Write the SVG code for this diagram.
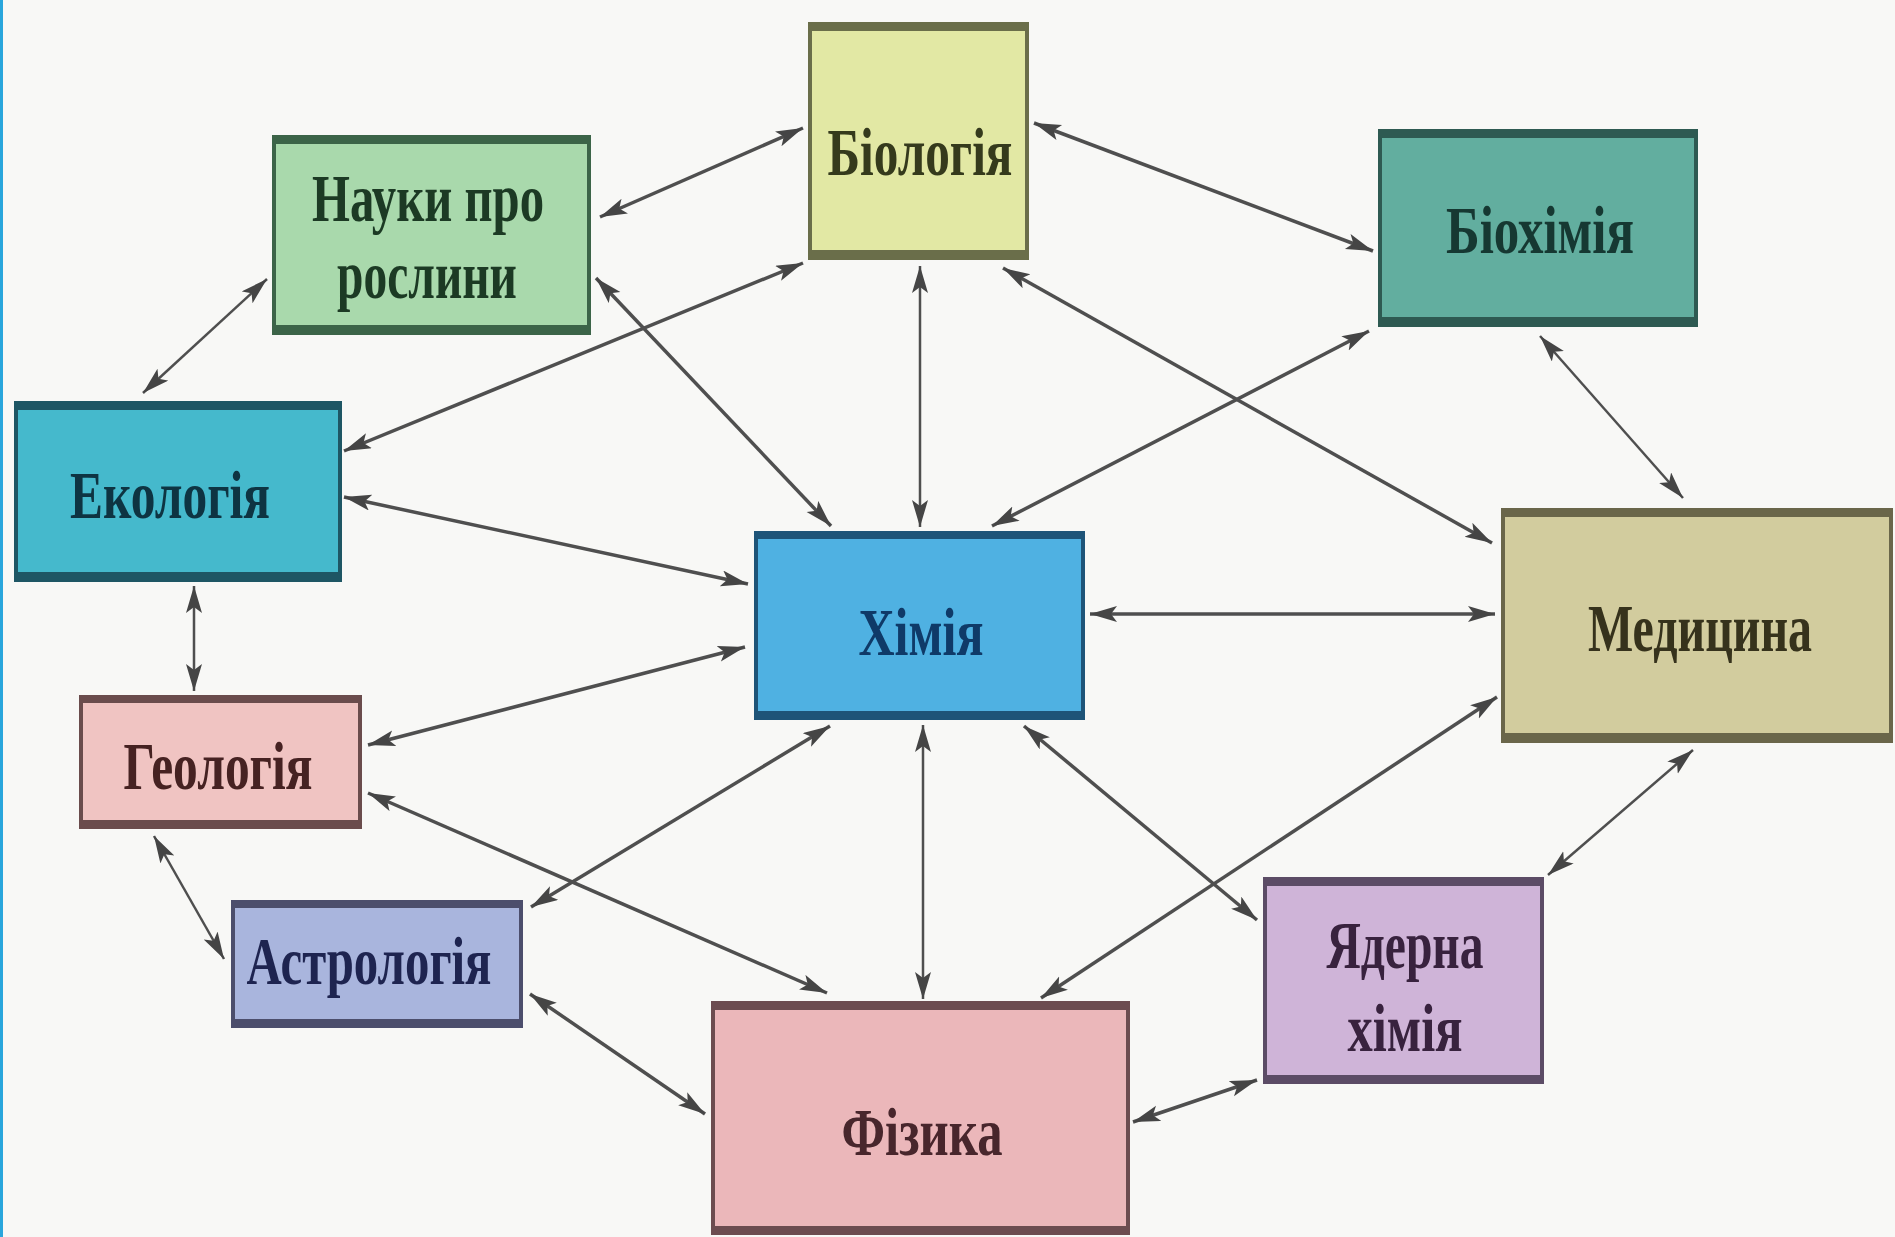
<svg xmlns="http://www.w3.org/2000/svg" width="1895" height="1237" viewBox="0 0 1895 1237">
<defs>
<marker id="ah" markerUnits="userSpaceOnUse" markerWidth="30" markerHeight="18" refX="27" refY="8" orient="auto-start-reverse" viewBox="0 0 30 18">
<path d="M0,0 L27,8 L0,16 L6,8 z" fill="#454545"/>
</marker>
<style>
.c line{stroke:#4f4f4f;stroke-width:3.5;marker-start:url(#ah);marker-end:url(#ah)}
.c line.t{stroke-width:2.5}
.lbl{font-family:"Liberation Serif","DejaVu Serif",serif;font-size:68px;font-weight:bold;text-anchor:middle}
</style>
</defs>
<rect x="0" y="0" width="1895" height="1237" fill="#f8f8f6"/>
<rect x="0" y="0" width="3" height="1237" fill="#2aa6dc"/>

<g class="c" id="connectors">
<line x1="600" y1="217" x2="803" y2="128"/>
<line x1="1034" y1="123" x2="1373" y2="251"/>
<line x1="803" y1="263" x2="344" y2="451"/>
<line x1="596" y1="278" x2="831" y2="526"/>
<line class="t" x1="920" y1="266" x2="920" y2="527"/>
<line x1="1003" y1="268" x2="1492" y2="543"/>
<line x1="1369" y1="331" x2="992" y2="526"/>
<line class="t" x1="1540" y1="336" x2="1683" y2="498"/>
<line class="t" x1="267" y1="279" x2="143" y2="393"/>
<line x1="344" y1="497" x2="748" y2="584"/>
<line class="t" x1="194" y1="586" x2="194" y2="691"/>
<line x1="745" y1="647" x2="368" y2="745"/>
<line x1="1090" y1="614" x2="1495" y2="614"/>
<line x1="830" y1="726" x2="531" y2="907"/>
<line x1="368" y1="793" x2="827" y2="993"/>
<line class="t" x1="923" y1="725" x2="923" y2="999"/>
<line x1="1024" y1="726" x2="1257" y2="920"/>
<line x1="1497" y1="697" x2="1041" y2="998"/>
<line class="t" x1="1693" y1="750" x2="1548" y2="875"/>
<line class="t" x1="154" y1="836" x2="224" y2="959"/>
<line x1="530" y1="994" x2="705" y2="1114"/>
<line x1="1133" y1="1122" x2="1257" y2="1080"/>
</g>

<g id="nauky">
<rect x="274" y="137" width="315" height="196" fill="#a9d9ac" stroke="#3c6448" stroke-width="4"/>
<rect x="272" y="135" width="319" height="9" fill="#3c6448"/>
<rect x="272" y="325" width="319" height="9" fill="#3c6448"/>
<text class="lbl" x="428" y="221" fill="#1c3a24" textLength="232" lengthAdjust="spacingAndGlyphs">Науки про</text>
<text class="lbl" x="427" y="298" fill="#1c3a24" textLength="180" lengthAdjust="spacingAndGlyphs">рослини</text>
</g>

<g id="biologiya">
<rect x="810" y="25" width="217" height="233" fill="#e2e8a4" stroke="#6a6e4a" stroke-width="4"/>
<rect x="808" y="22" width="221" height="9" fill="#6a6e4a"/>
<rect x="808" y="250" width="221" height="9" fill="#6a6e4a"/>
<text class="lbl" x="920" y="175" fill="#353a1c" textLength="185" lengthAdjust="spacingAndGlyphs">Біологія</text>
</g>

<g id="biokhimiya">
<rect x="1380" y="131" width="316" height="194" fill="#62ae9f" stroke="#2e5a52" stroke-width="4"/>
<rect x="1378" y="129" width="320" height="9" fill="#2e5a52"/>
<rect x="1378" y="317" width="320" height="9" fill="#2e5a52"/>
<text class="lbl" x="1540" y="253" fill="#163832" textLength="188" lengthAdjust="spacingAndGlyphs">Біохімія</text>
</g>

<g id="ekologiya">
<rect x="16" y="403" width="324" height="177" fill="#45b9cc" stroke="#1e5664" stroke-width="4"/>
<rect x="14" y="401" width="328" height="9" fill="#1e5664"/>
<rect x="14" y="572" width="328" height="9" fill="#1e5664"/>
<text class="lbl" x="170" y="518" fill="#0e3442" textLength="200" lengthAdjust="spacingAndGlyphs">Екологія</text>
</g>

<g id="khimiya">
<rect x="756" y="533" width="327" height="185" fill="#4fb1e2" stroke="#1e5478" stroke-width="4"/>
<rect x="754" y="531" width="331" height="8" fill="#1e5478"/>
<rect x="754" y="711" width="331" height="8" fill="#1e5478"/>
<text class="lbl" x="921" y="655" fill="#0f3a68" textLength="125" lengthAdjust="spacingAndGlyphs">Хімія</text>
</g>

<g id="medytsyna">
<rect x="1503" y="510" width="388" height="231" fill="#d2cc9e" stroke="#6a664a" stroke-width="4"/>
<rect x="1501" y="508" width="392" height="9" fill="#6a664a"/>
<rect x="1501" y="733" width="392" height="9" fill="#6a664a"/>
<text class="lbl" x="1700" y="651" fill="#36321c" textLength="224" lengthAdjust="spacingAndGlyphs">Медицина</text>
</g>

<g id="geologiya">
<rect x="81" y="697" width="279" height="130" fill="#f0c4c2" stroke="#6a4c4c" stroke-width="4"/>
<rect x="79" y="695" width="283" height="8" fill="#6a4c4c"/>
<rect x="79" y="820" width="283" height="8" fill="#6a4c4c"/>
<text class="lbl" x="218" y="789" fill="#462222" textLength="189" lengthAdjust="spacingAndGlyphs">Геологія</text>
</g>

<g id="astrologiya">
<rect x="233" y="902" width="288" height="124" fill="#a9b5dd" stroke="#4c4e6c" stroke-width="4"/>
<rect x="231" y="900" width="292" height="8" fill="#4c4e6c"/>
<rect x="231" y="1019" width="292" height="8" fill="#4c4e6c"/>
<text class="lbl" x="369" y="984" fill="#1e2450" textLength="245" lengthAdjust="spacingAndGlyphs">Астрологія</text>
</g>

<g id="fizyka">
<rect x="713" y="1004" width="415" height="229" fill="#ebb7ba" stroke="#6c4c50" stroke-width="4"/>
<rect x="711" y="1001" width="419" height="9" fill="#6c4c50"/>
<rect x="711" y="1226" width="419" height="9" fill="#6c4c50"/>
<text class="lbl" x="922" y="1155" fill="#48262c" textLength="161" lengthAdjust="spacingAndGlyphs">Фізика</text>
</g>

<g id="yaderna">
<rect x="1265" y="879" width="277" height="203" fill="#cfb4d8" stroke="#5c4c66" stroke-width="4"/>
<rect x="1263" y="877" width="281" height="9" fill="#5c4c66"/>
<rect x="1263" y="1075" width="281" height="9" fill="#5c4c66"/>
<text class="lbl" x="1405" y="968" fill="#38223e" textLength="157" lengthAdjust="spacingAndGlyphs">Ядерна</text>
<text class="lbl" x="1405" y="1051" fill="#38223e" textLength="115" lengthAdjust="spacingAndGlyphs">хімія</text>
</g>
</svg>
